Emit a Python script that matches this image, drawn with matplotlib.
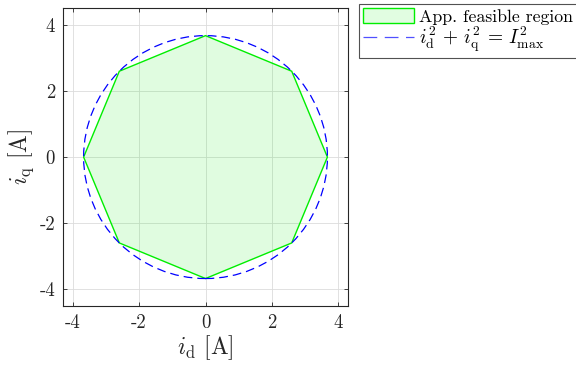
import matplotlib
matplotlib.use("Agg")
import matplotlib.pyplot as plt
from matplotlib.patches import Circle, Polygon, Patch
from matplotlib.lines import Line2D

# Data
I_max = 3.67
id_vertices = [3.67, 2.595, 0.0, -2.595, -3.67, -2.595, 0.0, 2.595]
iq_vertices = [0.0, 2.595, 3.67, 2.595, 0.0, -2.595, -3.67, -2.595]
ticks = [-4, -2, 0, 2, 4]
tick_labels = ["-4", "-2", "0", "2", "4"]
legend_labels = ["App. feasible region",
                 r"$i_\mathrm{d}^2 \,+\, i_\mathrm{q}^2 \,=\, I_\mathrm{max}^2$"]

plt.rcParams["font.family"] = ["cmr10", "DejaVu Serif"]
plt.rcParams["mathtext.fontset"] = "cm"
plt.rcParams["axes.unicode_minus"] = False

fig = plt.figure(figsize=(5.76, 3.70), dpi=100)
ax = fig.add_axes([0.110, 0.173, 0.4936, 0.8049])

fill_green = "#00ee00"
poly = Polygon(list(zip(id_vertices, iq_vertices)), closed=True,
               facecolor=(0.0, 0.93, 0.0, 0.12), edgecolor=fill_green, lw=1.0, zorder=2)
ax.add_patch(poly)
circ = Circle((0, 0), I_max, fill=False, edgecolor="#0000ff", lw=0.9,
              linestyle=(0, (7, 4)), zorder=3)
ax.add_patch(circ)

ax.set_xlim(-4.28, 4.28)
ax.set_ylim(-4.5, 4.5)
ax.set_xticks(ticks)
ax.set_yticks(ticks)
ax.set_xticklabels(tick_labels, fontsize=13.5)
ax.set_yticklabels(tick_labels, fontsize=13.5)
ax.tick_params(direction="in", top=True, right=True, length=3, width=0.6,
               color="#262626", labelcolor="#262626", pad=6)
ax.grid(True, color="#dcdcdc", lw=0.6, zorder=0)
ax.set_axisbelow(True)
for s in ax.spines.values():
    s.set_color("#262626")
    s.set_linewidth(0.8)

ax.set_xlabel(r"$i_\mathrm{d}$ [A]", fontsize=17, labelpad=1, color="#262626")
ax.set_ylabel(r"$i_\mathrm{q}$ [A]", fontsize=17, labelpad=2, color="#262626")

handles = [Patch(facecolor="#e1fde1", edgecolor=fill_green, lw=1.0),
           Line2D([], [], color="#5050ff", lw=0.9, linestyle=(0, (11, 6)))]
leg = fig.legend(handles, legend_labels, loc="upper left",
                 bbox_to_anchor=(359 / 576, 1 - 4 / 370), fontsize=12.8,
                 frameon=True, fancybox=False, edgecolor="#262626",
                 borderpad=0.2, labelspacing=0.0, handlelength=2.9,
                 handleheight=1.0, handletextpad=0.3, borderaxespad=0)
leg.get_frame().set_linewidth(0.8)
leg.get_texts()[1].set_fontsize(14)

fig.savefig("out.png", dpi=100)
